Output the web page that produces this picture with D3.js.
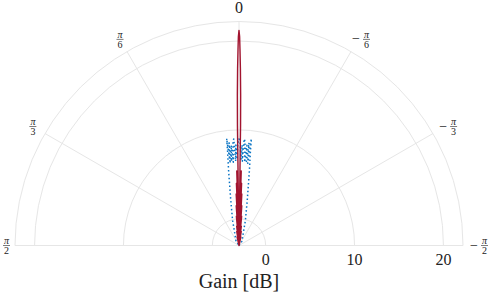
<!DOCTYPE html>
<html>
<head>
<meta charset="utf-8">
<script src="https://cdn.jsdelivr.net/npm/d3@7"></script>
<style>
  html, body { margin: 0; padding: 0; background: #fff; }
  svg { display: block; }
  text { font-family: "Liberation Serif", "DejaVu Serif", serif; fill: #222; }
</style>
</head>
<body>
<svg id="chart" width="490" height="292"></svg>
<script>
// ---------- data ----------
const radialTicks = [0, 10, 20];
const radialLabel = "Gain [dB]";
const angleTicks = [0, Math.PI / 6, Math.PI / 3, Math.PI / 2, -Math.PI / 6, -Math.PI / 3, -Math.PI / 2];
const angleTickSign = ["", "", "", "", "−", "−", "−"];
const angleTickDen = ["", "6", "3", "2", "6", "3", "2"];
const gainDomain = [-3, 22.2];

// blue dotted series: angle (rad, positive = left), gain (dB)
const blueTheta = [-0.9, -0.6, -0.37, -0.25, -0.18, -0.138, -0.12, -0.115, -0.106, -0.097, -0.088, -0.078, -0.068,
  -0.058, -0.049, -0.04, -0.031, -0.022, -0.012, 0,
  0.012, 0.022, 0.031, 0.04, 0.049, 0.058, 0.068, 0.078, 0.088, 0.097, 0.106, 0.115, 0.12, 0.138, 0.18, 0.25, 0.37, 0.6, 0.9];
const blueGain = [-3, -2.4, -1.8, -0.1, 2.2, 5.5, 7.8, 9.1, 6.3, 8.6, 6.5, 8.3, 6.4,
  8.7, 9.0, 6.5, 8.3, 6.7, 8.5, 9.0,
  8.5, 6.7, 8.3, 6.5, 9.0, 8.7, 6.4, 8.3, 6.5, 8.6, 6.3, 9.1, 7.8, 5.5, 2.2, -0.1, -1.8, -2.4, -3];

// red solid series
const redTheta = [-0.25, -0.22, -0.19, -0.16, -0.14, -0.12, -0.105, -0.09, -0.08, -0.07, -0.062, -0.055, -0.048,
  -0.042, -0.036, -0.03, -0.019, -0.013, -0.011, -0.008, -0.005, -0.003, 0,
  0.003, 0.005, 0.008, 0.011, 0.013, 0.019, 0.03, 0.036, 0.042, 0.048, 0.055, 0.062, 0.07, 0.08, 0.09, 0.105,
  0.12, 0.14, 0.16, 0.19, 0.22, 0.25];
const redGain = [-3, -2.0, -3, -1.4, -3, -0.8, -3, 0.3, -3, 1.5, -3, 2.8, -3,
  4.0, -3, 5.4, -3, 10.5, 13.9, 16.9, 19.1, 20.5, 21.2,
  20.5, 19.1, 16.9, 13.9, 10.5, -3, 5.4, -3, 4.0, -3, 2.8, -3, 1.5, -3, 0.3, -3,
  -0.8, -3, -1.4, -3, -2.0, -3];

// ---------- layout ----------
const cx = 239, cy = 245.5, R = 224;
const svg = d3.select("#chart");
const r = d3.scaleLinear().domain(gainDomain).range([0, R]).clamp(true);
const gridColor = "#e6e6e6";

const g = svg.append("g").attr("transform", `translate(${cx},${cy})`);

// radial grid circles (upper half)
const arcPath = rad => {
  const p = d3.path();
  p.moveTo(-rad, 0);
  p.arc(0, 0, rad, Math.PI, 2 * Math.PI);
  return p.toString();
};
g.selectAll("path.rgrid")
  .data(radialTicks.map(v => r(v)).concat([R]))
  .join("path")
  .attr("class", "rgrid")
  .attr("d", d => arcPath(d))
  .attr("fill", "none")
  .attr("stroke", gridColor)
  .attr("stroke-width", 1);

// angular spokes
g.selectAll("line.agrid")
  .data(angleTicks)
  .join("line")
  .attr("class", "agrid")
  .attr("x1", 0).attr("y1", 0)
  .attr("x2", t => -R * Math.sin(t))
  .attr("y2", t => -R * Math.cos(t))
  .attr("stroke", gridColor)
  .attr("stroke-width", 1);

// series
const line = d3.lineRadial()
  .angle(d => -d[0])
  .radius(d => r(d[1]));

const blueData = blueTheta.map((t, i) => [t, blueGain[i]]);
const redData = redTheta.map((t, i) => [t, redGain[i]]);

g.append("path")
  .attr("d", line(blueData))
  .attr("fill", "none")
  .attr("stroke", "#0a74c4")
  .attr("stroke-width", 1.5)
  .attr("stroke-dasharray", "1.5,2.4")
  .attr("stroke-linejoin", "round");

g.append("path")
  .attr("d", line(redData))
  .attr("fill", "none")
  .attr("stroke", "#A2142F")
  .attr("stroke-width", 1.4)
  .attr("stroke-linejoin", "round");

// radial tick labels
g.selectAll("text.rtick")
  .data(radialTicks)
  .join("text")
  .attr("class", "rtick")
  .attr("x", v => r(v))
  .attr("y", 19.5)
  .attr("text-anchor", "middle")
  .attr("font-size", 16)
  .text(v => v);

svg.append("text")
  .attr("x", cx)
  .attr("y", 288)
  .attr("text-anchor", "middle")
  .attr("font-size", 20)
  .text(radialLabel);

// angle labels
const LR = 238;
angleTicks.forEach((t, i) => {
  let x = cx - LR * Math.sin(t);
  const y = cy - LR * Math.cos(t);
  const lg = svg.append("g");
  if (t === 0) {
    lg.append("text").attr("x", x).attr("y", y + 5.5)
      .attr("text-anchor", "middle").attr("font-size", 16).text("0");
    return;
  }
  const sign = angleTickSign[i];
  const fracW = 7;
  const signW = sign ? 11 : 0;
  const total = signW + fracW;
  let left = x - total / 2 + (sign ? 3 : 0);
  if (left < 3) left = 3;
  if (left + total > 488) left = 488 - total;
  if (sign) {
    lg.append("text").attr("x", left + 4).attr("y", y + 4)
      .attr("text-anchor", "middle").attr("font-size", 14).text(sign);
  }
  const fx = left + signW + fracW / 2;
  lg.append("text").attr("x", fx).attr("y", y - 1.5)
    .attr("text-anchor", "middle").attr("font-size", 10).attr("font-style", "italic").text("π");
  lg.append("line").attr("x1", fx - fracW / 2).attr("x2", fx + fracW / 2)
    .attr("y1", y).attr("y2", y).attr("stroke", "#222").attr("stroke-width", 0.6);
  lg.append("text").attr("x", fx).attr("y", y + 8.5)
    .attr("text-anchor", "middle").attr("font-size", 10).text(angleTickDen[i]);
});
</script>
</body>
</html>
